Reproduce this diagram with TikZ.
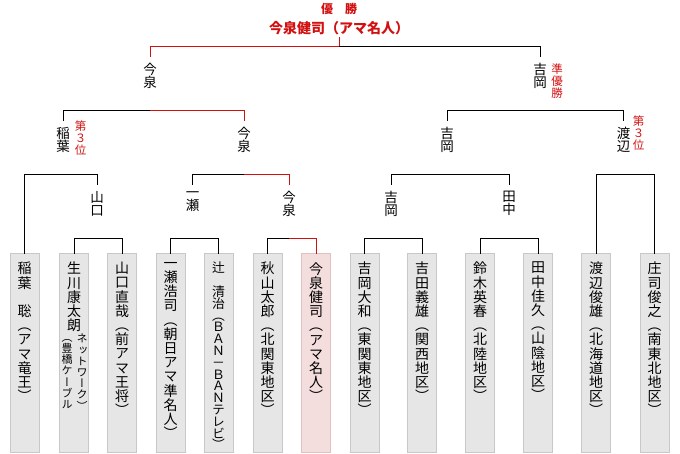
\documentclass[tikz,border=0pt]{standalone}
\usepackage{fontspec}
\newfontfamily\jp{Noto Sans CJK JP}
\newfontfamily\jpv{Noto Sans CJK JP}[RawFeature=+vert]
\usetikzlibrary{positioning}
\definecolor{winred}{RGB}{210,16,16}
\definecolor{boxfill}{RGB}{230,230,230}
\definecolor{boxline}{RGB}{200,200,200}
\definecolor{winfill}{RGB}{243,221,221}
\definecolor{winline}{RGB}{226,192,192}

\begin{document}
\begin{tikzpicture}[
  x=1pt, y=-1pt,
  conn/.style={line width=1pt, black},
  winconn/.style={line width=1pt, winred},
  pbox/.style={draw=boxline, fill=boxfill, line width=1pt, minimum width=29pt, minimum height=198pt, inner sep=0pt, outer sep=0pt, anchor=north},
  wbox/.style={pbox, draw=winline, fill=winfill},
  ntext/.style={align=center, inner sep=0pt, font=\jpv\fontsize{14}{14.2}\selectfont, execute at begin node={\rule{0pt}{12.3pt}}},
  tight/.style={font=\jpv\fontsize{12.8}{11.8}\selectfont},
  stext/.style={align=center, inner sep=0pt, anchor=north, font=\jpv\fontsize{11}{11.2}\selectfont, execute at begin node={\rule{0pt}{9.7pt}}},
  lbl/.style={align=center, inner xsep=0pt, inner ysep=6pt, anchor=north, font=\jpv\fontsize{13.5}{13.3}\selectfont, execute at begin node={\rule{0pt}{11.9pt}}},
  note/.style={align=center, inner xsep=0pt, inner ysep=6pt, anchor=north, text=winred, font=\jpv\fontsize{11.5}{11.6}\selectfont, execute at begin node={\rule{0pt}{10.1pt}}},
  ttl/.style={text=winred, font=\jp\bfseries\fontsize{12}{14}\selectfont, inner sep=0pt, anchor=base},
  champ/.style={text=winred, font=\jp\bfseries\fontsize{14}{16}\selectfont, inner xsep=0pt, inner ysep=1pt, anchor=base}
]
\useasboundingbox (0,0) rectangle (680,454);

\coordinate (row1) at (0,47);
\coordinate (row2) at (0,111);
\coordinate (row3) at (0,175);
\coordinate (row4) at (0,239);

\node[ttl] (title) at (339,14) {優　勝};
\node[champ] (champ) at (339,34) {今泉健司（アマ名人）};

\node[lbl] (y1a) at (150,57) {今\\泉};
\node[lbl] (y1b) at (540,57) {吉\\岡};
\node[note] (runner) at (557,58) {準\\優\\勝};

\node[lbl] (y2a) at (63,121) {稲\\葉};
\node[lbl] (y2b) at (244,121) {今\\泉};
\node[lbl] (y2c) at (447,121) {吉\\岡};
\node[lbl] (y2d) at (623.5,121) {渡\\辺};
\node[note] (third1) at (80.5,115) {第\\３\\位};
\node[note] (third2) at (638.5,110) {第\\３\\位};

\node[lbl] (y3a) at (97,185) {山\\口};
\node[lbl] (y3b) at (192.5,185) {一\\瀬};
\node[lbl] (y3c) at (289,185) {今\\泉};
\node[lbl] (y3d) at (391,185) {吉\\岡};
\node[lbl] (y3e) at (509,185) {田\\中};

\node[pbox] (b1) at (24.5,254) {};
\node[pbox] (b2) at (74,254) {};
\node[pbox] (b3) at (122,254) {};
\node[pbox] (b4) at (170.5,254) {};
\node[pbox] (b5) at (218.5,254) {};
\node[pbox] (b6) at (267.5,254) {};
\node[wbox] (b7) at (316,254) {};
\node[pbox] (b8) at (364.5,254) {};
\node[pbox] (b9) at (422,254) {};
\node[pbox] (b10) at (480,254) {};
\node[pbox] (b11) at (538,254) {};
\node[pbox] (b12) at (596,254) {};
\node[pbox] (b13) at (654.5,254) {};

\node[ntext, below=8pt of b1.north] (n1) {稲\\葉\\　\\聡\\（\\ア\\マ\\竜\\王\\）};
\node[ntext, below=8pt of b2.north] (n2) {生\\川\\康\\太\\朗};
\node[stext] (n2a) at (67,339) {（\\豊\\橋\\ケ\\ー\\ブ\\ル};
\node[stext] (n2b) at (82,334) {ネ\\ッ\\ト\\ワ\\ー\\ク\\）};
\node[ntext, below=8pt of b3.north] (n3) {山\\口\\直\\哉\\（\\前\\ア\\マ\\王\\将\\）};
\node[ntext, below=8pt of b4.north] (n4) {一\\瀬\\浩\\司\\（\\朝\\日\\ア\\マ\\準\\名\\人\\）};
\node[ntext, tight, below=8pt of b5.north] (n5) {辻\\　\\清\\治\\（\\Ｂ\\Ａ\\Ｎ\\－\\Ｂ\\Ａ\\Ｎ\\テ\\レ\\ビ\\）};
\node[ntext, below=8pt of b6.north] (n6) {秋\\山\\太\\郎\\（\\北\\関\\東\\地\\区\\）};
\node[ntext, below=8pt of b7.north] (n7) {今\\泉\\健\\司\\（\\ア\\マ\\名\\人\\）};
\node[ntext, below=8pt of b8.north] (n8) {吉\\岡\\大\\和\\（\\東\\関\\東\\地\\区\\）};
\node[ntext, below=8pt of b9.north] (n9) {吉\\田\\義\\雄\\（\\関\\西\\地\\区\\）};
\node[ntext, below=8pt of b10.north] (n10) {鈴\\木\\英\\春\\（\\北\\陸\\地\\区\\）};
\node[ntext, below=8pt of b11.north] (n11) {田\\中\\佳\\久\\（\\山\\陰\\地\\区\\）};
\node[ntext, below=8pt of b12.north] (n12) {渡\\辺\\俊\\雄\\（\\北\\海\\道\\地\\区\\）};
\node[ntext, below=8pt of b13.north] (n13) {庄\\司\\俊\\之\\（\\南\\東\\北\\地\\区\\）};

\draw[conn] (b2.north) |- (b3 |- row4) -- (b3.north);
\draw[conn] (b4.north) |- (b5 |- row4) -- (b5.north);
\draw[conn] (b6.north) |- (y3c |- row4);
\draw[winconn] (y3c |- row4) -| (b7.north);
\draw[conn] (b8.north) |- (b9 |- row4) -- (b9.north);
\draw[conn] (b10.north) |- (b11 |- row4) -- (b11.north);

\draw[conn] (b1.north) |- (y3a |- row3) -- (y3a.north);
\draw[conn] (y3b.north) |- (y2b |- row3);
\draw[winconn] (y2b |- row3) -| (y3c.north);
\draw[conn] (y3d.north) |- (y3e |- row3) -- (y3e.north);
\draw[conn] (b12.north) |- (b13 |- row3) -- (b13.north);

\draw[conn] (y2a.north) |- (y1a |- row2);
\draw[winconn] (y1a |- row2) -| (y2b.north);
\draw[conn] (y2c.north) |- (y2d |- row2) -- (y2d.north);

\draw[winconn] (y1a.north) |- (champ |- row1) -- (champ.south);
\draw[conn] (champ |- row1) -| (y1b.north);
\end{tikzpicture}
\end{document}
